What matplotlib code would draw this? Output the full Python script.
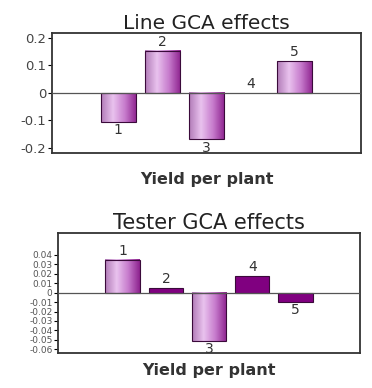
import numpy as np
import matplotlib
matplotlib.use("Agg")
import matplotlib.pyplot as plt
from matplotlib.colors import LinearSegmentedColormap

# ---- data ----
line_labels = ["1", "2", "3", "4", "5"]
line_gca = [-0.105, 0.153, -0.168, 0.0, 0.116]

tester_labels = ["1", "2", "3", "4", "5"]
tester_gca = [0.035, 0.005, -0.051, 0.018, -0.0095]
tester_flat = [False, True, False, True, True]   # bars drawn in plain dark purple

line_ticks = [0.2, 0.1, 0, -0.1, -0.2]
tester_ticks = [0.04, 0.03, 0.02, 0.01, 0, -0.01, -0.02, -0.03, -0.04, -0.05, -0.06]

cyl = LinearSegmentedColormap.from_list(
    "cyl", ["#b27cb8", "#e9c2ee", "#c77ccd", "#8e238f"])
grad = np.linspace(0, 1, 64).reshape(1, -1)


def draw_bars(ax, vals, labels, flat, off):
    x = np.arange(1, len(vals) + 1)
    w = 0.8
    for xi, v, lab, f in zip(x, vals, labels, flat):
        lo, hi = min(0, v), max(0, v)
        if v != 0:
            if f:
                ax.bar(xi, v, width=w, color="#800080", edgecolor="#3a0a3a",
                       linewidth=0.8, zorder=2)
            else:
                ax.imshow(grad, cmap=cyl, aspect="auto", zorder=2,
                          extent=(xi - w / 2, xi + w / 2, lo, hi))
                ax.bar(xi, v, width=w, fill=False, edgecolor="#3a0a3a",
                       linewidth=0.8, zorder=3)
        if v >= 0:
            ax.text(xi, hi + off * 0.2, lab, ha="center", va="bottom",
                    fontsize=10, color="#333333")
        else:
            ax.text(xi, lo - off * 0.2, lab, ha="center", va="top",
                    fontsize=10, color="#333333")
    ax.axhline(0, color="#555555", linewidth=0.9, zorder=4)
    ax.set_xlim(-0.5, 6.5)
    ax.set_xticks([])
    for s in ax.spines.values():
        s.set_linewidth(1.3)
        s.set_color("#333333")


fig = plt.figure(figsize=(3.72, 3.88), dpi=100)

ax1 = fig.add_axes([0.140, 0.606, 0.830, 0.309])
draw_bars(ax1, line_gca, line_labels, [False] * 5, 0.03)
ax1.set_ylim(-0.218, 0.218)
ax1.set_yticks(line_ticks)
ax1.set_yticklabels(["0.2", "0.1", "0", "-0.1", "-0.2"], fontsize=9.5, color="#444444")
ax1.tick_params(axis="y", length=3, pad=1)
ax1.set_title("Line GCA effects", fontsize=14.5, pad=2, color="#222222")
ax1.set_xlabel("Yield per plant", fontsize=11.5, fontweight="bold",
               labelpad=14, color="#333333")

ax2 = fig.add_axes([0.156, 0.090, 0.812, 0.309])
draw_bars(ax2, tester_gca, tester_labels, tester_flat, 0.008)
ax2.set_ylim(-0.064, 0.063)
ax2.set_yticks(tester_ticks)
ax2.set_yticklabels([f"{t:g}" for t in tester_ticks], fontsize=6.5,
                    color="#555555")
ax2.tick_params(axis="y", length=3, pad=1)
ax2.set_title("Tester GCA effects", fontsize=15, pad=2, color="#222222")
ax2.set_xlabel("Yield per plant", fontsize=11.5, fontweight="bold",
               labelpad=7, color="#333333")

fig.savefig("out.png", dpi=100)
